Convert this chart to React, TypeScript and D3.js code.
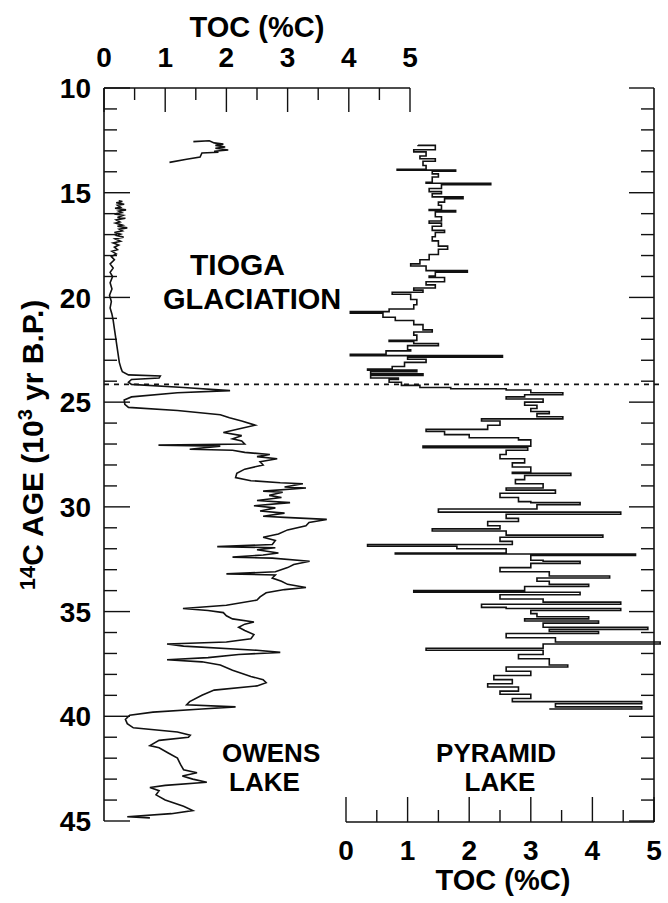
import React from "react";
import * as d3 from "d3";

// ---- Data (age in 10^3 yr B.P., TOC in %C) ----
const ageTicks = [10, 15, 20, 25, 30, 35, 40, 45];
const tocTicks = [0, 1, 2, 3, 4, 5];
const glaciationAge = 24.15;

const owensUpper: [number, number][] = [
  [12.56, 1.46], [12.52, 1.72], [12.62, 1.8], [12.68, 1.95], [12.74, 1.82], [12.82, 1.98],
  [12.88, 1.82], [12.96, 2.03], [13.02, 1.8], [13.07, 1.87], [13.1, 1.6], [13.3, 1.57],
  [13.4, 1.35], [13.55, 1.07],
];

const owensLower: [number, number][] = [
  [15.38, 0.24], [15.42, 0.3], [15.48, 0.2], [15.55, 0.33], [15.6, 0.22], [15.7, 0.27],
  [15.74, 0.18], [15.82, 0.36], [15.88, 0.24], [15.95, 0.29], [16.02, 0.17], [16.08, 0.31],
  [16.18, 0.22], [16.22, 0.35], [16.3, 0.2], [16.4, 0.26], [16.45, 0.19], [16.55, 0.3],
  [16.6, 0.22], [16.68, 0.38], [16.74, 0.25], [16.82, 0.3], [16.9, 0.17], [16.98, 0.27],
  [17.05, 0.21], [17.12, 0.32], [17.2, 0.18], [17.32, 0.27], [17.4, 0.15], [17.5, 0.24],
  [17.6, 0.17], [17.72, 0.22], [17.8, 0.13], [17.92, 0.2], [18.05, 0.12], [18.2, 0.17],
  [18.4, 0.1], [18.6, 0.15], [18.8, 0.1], [19.0, 0.14], [19.3, 0.1], [19.6, 0.13],
  [19.9, 0.09], [20.2, 0.12], [20.5, 0.1], [20.8, 0.13], [21.1, 0.15], [21.5, 0.17],
  [21.9, 0.19], [22.3, 0.21], [22.7, 0.23], [23.1, 0.25], [23.4, 0.28], [23.55, 0.3],
  [23.7, 0.4], [23.75, 0.92], [23.85, 0.9], [23.92, 0.45], [24.05, 0.4], [24.15, 0.45],
  [24.3, 1.3], [24.45, 2.06], [24.55, 1.2], [24.75, 0.45], [24.9, 0.33], [25.1, 0.34],
  [25.25, 0.4], [25.4, 1.2], [25.6, 1.9], [25.75, 2.05], [25.9, 2.25], [26.1, 2.47],
  [26.25, 2.25], [26.45, 1.95], [26.6, 2.25], [26.75, 2.1], [26.85, 2.25], [27.0, 2.3],
  [27.05, 0.89], [27.1, 1.9], [27.25, 1.4], [27.3, 2.1], [27.4, 2.3], [27.5, 2.71],
  [27.6, 2.5], [27.7, 2.83], [27.85, 2.55], [28.0, 2.6], [28.2, 2.3], [28.4, 2.17],
  [28.6, 2.15], [28.75, 2.4], [28.85, 2.88], [28.9, 3.25], [29.05, 2.95], [29.1, 3.3],
  [29.25, 2.6], [29.3, 2.92], [29.45, 2.7], [29.55, 2.9], [29.7, 2.5], [29.8, 3.04],
  [29.95, 2.45], [30.05, 2.8], [30.2, 2.55], [30.3, 2.95], [30.45, 2.6], [30.5, 2.95],
  [30.6, 3.64], [30.75, 3.35], [30.9, 3.3], [31.1, 3.0], [31.3, 2.85], [31.45, 2.6],
  [31.6, 2.8], [31.8, 2.75], [31.9, 1.85], [31.95, 2.8], [32.05, 2.5], [32.2, 2.85],
  [32.3, 2.6], [32.4, 2.1], [32.45, 2.75], [32.6, 3.36], [32.75, 3.1], [32.9, 3.0],
  [33.1, 2.8], [33.2, 2.0], [33.25, 2.8], [33.4, 2.75], [33.55, 2.9], [33.7, 3.0],
  [33.85, 3.3], [33.95, 2.95], [34.1, 2.65], [34.3, 2.55], [34.45, 2.5], [34.7, 2.0],
  [34.85, 1.29], [34.95, 1.7], [35.05, 1.95], [35.2, 2.0], [35.35, 2.1], [35.5, 2.45],
  [35.6, 2.3], [35.75, 2.2], [35.9, 2.3], [36.1, 2.45], [36.3, 2.4], [36.45, 2.0],
  [36.55, 1.03], [36.65, 1.3], [36.85, 2.5], [36.95, 2.88], [37.05, 2.2], [37.2, 1.7],
  [37.3, 1.03], [37.4, 1.6], [37.55, 1.9], [37.8, 2.1], [38.1, 2.4], [38.25, 2.6],
  [38.4, 2.65], [38.55, 2.5], [38.75, 1.8], [39.0, 1.6], [39.3, 1.4], [39.45, 1.35],
  [39.55, 2.15], [39.65, 1.6], [39.8, 0.8], [39.95, 0.42], [40.15, 0.35], [40.35, 0.38],
  [40.55, 0.48], [40.75, 1.2], [40.9, 1.41], [41.0, 1.38], [41.15, 0.9], [41.4, 0.75],
  [41.5, 0.9], [41.75, 1.05], [42.0, 1.2], [42.3, 1.25], [42.55, 1.3], [42.7, 1.52],
  [42.85, 1.28], [43.0, 1.45], [43.15, 1.68], [43.3, 1.0], [43.4, 0.75], [43.55, 0.9],
  [43.75, 0.85], [44.0, 1.0], [44.3, 1.3], [44.5, 1.45], [44.65, 1.1], [44.8, 0.38],
  [44.85, 0.75],
];

const pyramid: [number, number][] = [
  [12.72, 1.17], [12.74, 1.45], [12.95, 1.1], [13.05, 1.3], [13.25, 1.2], [13.38, 1.45],
  [13.5, 1.25], [13.7, 1.3], [13.88, 0.83], [13.92, 1.78], [13.97, 1.4], [14.1, 1.5],
  [14.25, 1.4], [14.5, 1.3], [14.55, 2.35], [14.62, 1.55], [14.8, 1.35], [14.95, 1.55],
  [15.05, 1.4], [15.2, 1.9], [15.28, 1.6], [15.45, 1.5], [15.6, 1.55], [15.8, 1.35],
  [15.85, 1.78], [15.92, 1.45], [16.15, 1.55], [16.35, 1.35], [16.45, 1.55], [16.6, 1.4],
  [16.8, 1.6], [16.9, 1.45], [17.1, 1.4], [17.3, 1.5], [17.55, 1.65], [17.7, 1.5],
  [17.95, 1.35], [18.2, 1.2], [18.4, 1.05], [18.5, 1.3], [18.72, 1.97], [18.8, 1.45],
  [18.98, 1.35], [19.05, 1.6], [19.25, 1.3], [19.4, 1.45], [19.55, 1.1], [19.65, 1.25],
  [19.75, 0.75], [19.85, 1.05], [20.1, 1.15], [20.35, 1.1], [20.55, 0.7], [20.68, 0.07],
  [20.75, 0.6], [20.95, 0.8], [21.1, 1.1], [21.3, 1.25], [21.55, 1.4], [21.65, 1.1],
  [21.8, 1.15], [22.05, 0.7], [22.1, 1.1], [22.2, 1.5], [22.3, 1.0], [22.5, 1.05],
  [22.55, 0.65], [22.72, 0.07], [22.78, 2.54], [22.85, 1.0], [22.95, 1.3], [23.1, 0.95],
  [23.3, 0.75], [23.42, 0.35], [23.47, 1.15], [23.55, 0.4], [23.65, 1.25], [23.72, 0.4],
  [23.85, 0.85], [23.92, 0.7], [24.05, 0.9], [24.2, 1.2], [24.3, 1.7], [24.36, 2.6],
  [24.42, 3.0], [24.55, 3.52], [24.65, 2.9], [24.75, 2.6], [24.85, 3.2], [25.0, 2.9],
  [25.15, 3.1], [25.3, 3.0], [25.45, 3.3], [25.55, 3.1], [25.7, 3.52], [25.8, 2.2],
  [25.9, 2.5], [26.1, 2.3], [26.3, 1.3], [26.4, 1.6], [26.55, 2.0], [26.7, 2.8],
  [26.8, 3.0], [27.1, 1.25], [27.18, 2.95], [27.3, 2.6], [27.5, 2.5], [27.7, 2.9],
  [27.9, 2.7], [28.1, 3.0], [28.35, 2.7], [28.4, 3.65], [28.5, 2.9], [28.7, 2.75],
  [28.9, 3.2], [29.1, 2.6], [29.2, 3.4], [29.35, 2.5], [29.55, 2.8], [29.75, 3.0],
  [29.8, 3.8], [29.9, 3.1], [30.1, 1.5], [30.25, 4.46], [30.35, 2.6], [30.55, 2.8],
  [30.7, 2.3], [30.9, 2.5], [31.05, 1.4], [31.15, 2.6], [31.35, 4.17], [31.45, 2.5],
  [31.65, 2.7], [31.8, 0.35], [31.88, 1.8], [32.0, 2.6], [32.2, 0.8], [32.25, 4.7],
  [32.32, 3.0], [32.55, 3.2], [32.6, 3.8], [32.7, 3.0], [32.9, 2.5], [33.1, 3.3],
  [33.3, 4.28], [33.4, 3.1], [33.55, 3.3], [33.7, 3.94], [33.8, 2.9], [34.0, 1.1],
  [34.08, 3.8], [34.2, 2.5], [34.4, 3.2], [34.55, 4.46], [34.65, 2.2], [34.8, 2.6],
  [34.85, 4.46], [34.95, 3.0], [35.1, 3.1], [35.25, 3.94], [35.35, 2.9], [35.45, 4.1],
  [35.55, 3.2], [35.75, 4.9], [35.85, 3.3], [35.95, 4.1], [36.05, 2.6], [36.25, 3.4],
  [36.45, 5.1], [36.55, 3.2], [36.75, 1.3], [36.85, 3.2], [37.05, 2.8], [37.25, 3.3],
  [37.55, 3.6], [37.65, 2.6], [37.85, 3.0], [38.05, 2.4], [38.25, 2.7], [38.45, 2.3],
  [38.6, 2.8], [38.8, 2.5], [38.95, 3.0], [39.15, 2.7], [39.3, 4.8], [39.4, 3.4],
  [39.55, 4.8], [39.65, 3.3],
];

const FONT = "'Liberation Sans', Arial, Helvetica, sans-serif";

export default function App() {
  const W = 668, H = 903;
  const y = d3.scaleLinear().domain([10, 45]).range([88, 821]);
  const xTop = d3.scaleLinear().domain([0, 5]).range([104, 410]);
  const xBot = d3.scaleLinear().domain([0, 5]).range([346, 654]);
  const leftX = 104, rightX = 654;
  const topY = y(10), botY = y(45);

  const owensLine = d3.line<[number, number]>()
    .x((d) => xTop(d[1])).y((d) => y(d[0])).curve(d3.curveLinear);
  const pyrLine = d3.line<[number, number]>()
    .x((d) => xBot(d[1])).y((d) => y(d[0])).curve(d3.curveStepBefore);

  const yearTicks = d3.range(10, 46);
  const halfTicks = d3.range(0, 5.001, 0.5);
  const isMajorAge = (a: number) => a % 5 === 0;
  const isMajorToc = (t: number) => Math.abs(t - Math.round(t)) < 1e-6;

  const stroke = "#111";
  return (
    <svg width={W} height={H} style={{ position: "absolute", left: 0, top: 0, background: "#fff" }}
      fontFamily={FONT}>
      <rect x={0} y={0} width={W} height={H} fill="#fff" />
      {/* left axis */}
      <line x1={leftX} x2={leftX} y1={topY} y2={botY} stroke={stroke} strokeWidth={1.6} />
      {yearTicks.map((a) => (
        <line key={"l" + a} x1={leftX} x2={leftX + (isMajorAge(a) ? 26 : 13)} y1={y(a)} y2={y(a)}
          stroke={stroke} strokeWidth={1.4} />
      ))}
      {ageTicks.map((a) => (
        <text key={"lt" + a} x={91} y={y(a)} dy="0.36em" textAnchor="end" fontSize={28}
          fontWeight="bold">{a}</text>
      ))}
      {/* right axis */}
      <line x1={rightX} x2={rightX} y1={topY} y2={botY + 1} stroke={stroke} strokeWidth={1.6} />
      {yearTicks.map((a) => (
        <line key={"r" + a} x1={rightX} x2={rightX - (isMajorAge(a) ? 25 : 13)} y1={y(a)} y2={y(a)}
          stroke={stroke} strokeWidth={1.4} />
      ))}
      {/* top axis (Owens) */}
      <line x1={leftX} x2={xTop(5)} y1={topY} y2={topY} stroke={stroke} strokeWidth={1.6} />
      {halfTicks.map((t) => (
        <line key={"t" + t} x1={xTop(t)} x2={xTop(t)} y1={topY} y2={topY + (isMajorToc(t) ? 24 : 12)}
          stroke={stroke} strokeWidth={1.4} />
      ))}
      {tocTicks.map((t) => (
        <text key={"tt" + t} x={xTop(t)} y={67} textAnchor="middle" fontSize={28} fontWeight="bold">{t}</text>
      ))}
      <text x={257} y={37} textAnchor="middle" fontSize={29} fontWeight="bold">TOC (%C)</text>
      {/* bottom axis (Pyramid) */}
      <line x1={xBot(0)} x2={rightX} y1={botY + 1} y2={botY + 1} stroke={stroke} strokeWidth={1.6} />
      {halfTicks.map((t) => (
        <line key={"b" + t} x1={xBot(t)} x2={xBot(t)} y1={botY + 1} y2={botY + 1 - (isMajorToc(t) ? 25 : 12)}
          stroke={stroke} strokeWidth={1.4} />
      ))}
      {tocTicks.map((t) => (
        <text key={"bt" + t} x={xBot(t)} y={860} textAnchor="middle" fontSize={28} fontWeight="bold">{t}</text>
      ))}
      <text x={503} y={890} textAnchor="middle" fontSize={29} fontWeight="bold">TOC (%C)</text>
      {/* y axis title */}
      <text transform={`translate(43,${445}) rotate(-90)`} textAnchor="middle" fontSize={30} fontWeight="bold">
        <tspan fontSize={22} dy="-8">14</tspan>
        <tspan dy="8">C AGE (10</tspan>
        <tspan fontSize={20} dy="-11">3</tspan>
        <tspan dy="11"> yr B.P.)</tspan>
      </text>
      {/* glaciation boundary */}
      <line x1={leftX} x2={660} y1={y(glaciationAge)} y2={y(glaciationAge)} stroke={stroke}
        strokeWidth={1.6} strokeDasharray="5 5" />
      {/* data */}
      <path d={owensLine(owensUpper) ?? ""} fill="none" stroke={stroke} strokeWidth={1.6} />
      <path d={owensLine(owensLower) ?? ""} fill="none" stroke={stroke} strokeWidth={1.6} />
      <path d={pyrLine(pyramid) ?? ""} fill="none" stroke={stroke} strokeWidth={1.6} />
      {/* labels */}
      <text x={190} y={275} fontSize={30} fontWeight="bold">TIOGA</text>
      <text x={163} y={309} fontSize={29} fontWeight="bold">GLACIATION</text>
      <text x={222} y={762} fontSize={26} fontWeight="bold">OWENS</text>
      <text x={229} y={791} fontSize={26} fontWeight="bold">LAKE</text>
      <text x={496} y={762} textAnchor="middle" fontSize={26} fontWeight="bold">PYRAMID</text>
      <text x={500} y={791} textAnchor="middle" fontSize={26} fontWeight="bold">LAKE</text>
    </svg>
  );
}
